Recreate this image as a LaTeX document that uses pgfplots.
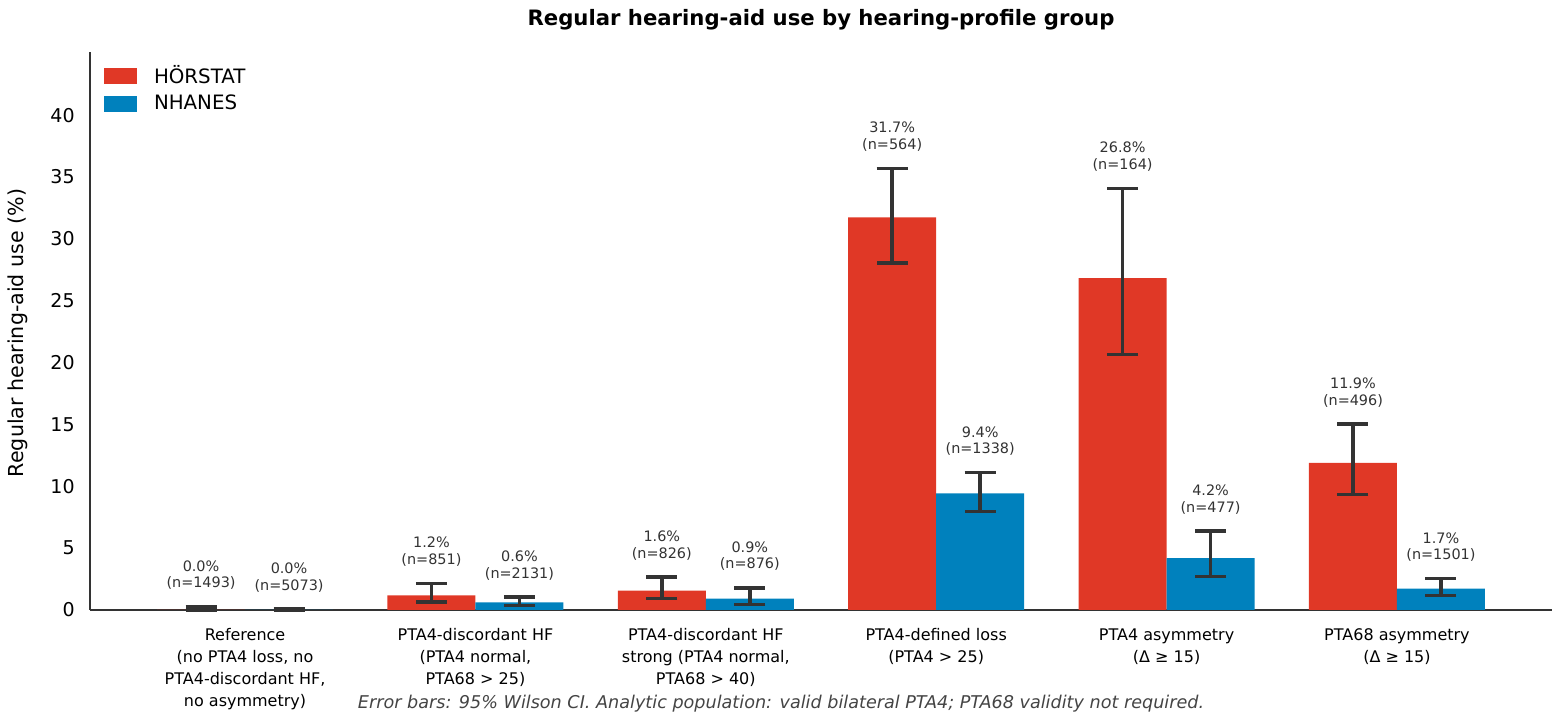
\documentclass[border=0pt]{standalone}
\usepackage{pgfplots}
\pgfplotsset{compat=1.18}
\usepackage{pgfplotstable}
\usepackage{fontspec}
\setmainfont{DejaVu Sans}
\definecolor{hred}{RGB}{224,56,38}
\definecolor{nblue}{RGB}{0,129,189}
\definecolor{ebar}{RGB}{51,51,51}
\definecolor{foot}{RGB}{68,68,68}

% x y err+ err-
\pgfplotstableread{
x      y      ep    em
-0.191 0.00   0.26  0.00
0.809  1.18   0.97  0.54
1.809  1.57   1.10  0.65
2.809  31.74  3.95  3.71
3.809  26.83  7.25  6.19
4.809  11.90  3.14  2.57
}\hor
\pgfplotstableread{
x      y      ep    em
0.191  0.00   0.076 0.00
1.191  0.61   0.43  0.25
2.191  0.91   0.88  0.45
3.191  9.42   1.68  1.45
4.191  4.19   2.20  1.46
5.191  1.73   0.80  0.55
}\nha

\begin{document}
\begin{tikzpicture}
\useasboundingbox (0,0) rectangle (781pt,360.5pt);
\begin{axis}[
  at={(45pt,55.5pt)}, anchor=south west,
  scale only axis, width=731pt, height=279pt,
  xmin=-0.673, xmax=5.673, ymin=0, ymax=45.1,
  axis x line*=bottom, axis y line*=left,
  axis line style={ebar, line width=1.35pt},
  major tick length=0pt,
  ytick={0,5,...,40},
  yticklabel style={font=\fontsize{9.5}{11}\selectfont, anchor=east, inner sep=0pt, xshift=-7.5pt},
  /pgf/number format/assume math mode=true,
  xtick={0,1,2,3,4,5},
  xticklabels={
    {Reference\\(no PTA4 loss, no\\PTA4-discordant HF,\\no asymmetry)},
    {PTA4-discordant HF\\(PTA4 normal,\\PTA68 > 25)},
    {PTA4-discordant HF\\strong (PTA4 normal,\\PTA68 > 40)},
    {PTA4-defined loss\\(PTA4 > 25)},
    {PTA4 asymmetry\\(Δ ≥ 15)},
    {PTA68 asymmetry\\(Δ ≥ 15)}},
  xticklabel style={font=\fontsize{8}{11}\selectfont, align=center, anchor=north, inner sep=0pt, yshift=-9pt},
  legend style={at={(axis description cs:0,1)}, anchor=north west, draw=none, fill=none,
    inner sep=0pt, outer sep=0pt, xshift=7pt, yshift=-6.75pt,
    font=\fontsize{9.9}{11}\selectfont, nodes={inner sep=0pt}, column sep=8.5pt, row sep=4.3pt},
  legend cell align=left,
  legend image code/.code={\fill[#1] (0pt,-4pt) rectangle (16.5pt,4pt);},
  clip=false,
]
\addplot[ybar, bar width=0.382, bar shift=0pt, fill=hred, draw=none,
  error bars/.cd, y dir=both, y explicit,
  error bar style={ebar, line width=1.8pt},
  error mark options={ebar, line width=1.7pt, mark size=7.75pt, rotate=90}]
  table[x=x, y=y, y error plus=ep, y error minus=em]{\hor};
\addlegendentry{HÖRSTAT}
\addplot[ybar, bar width=0.382, bar shift=0pt, fill=nblue, draw=none,
  error bars/.cd, y dir=both, y explicit,
  error bar style={ebar, line width=1.8pt},
  error mark options={ebar, line width=1.7pt, mark size=7.75pt, rotate=90}]
  table[x=x, y=y, y error plus=ep, y error minus=em]{\nha};
\addlegendentry{NHANES}

\begin{scope}[every node/.style={font=\fontsize{7.2}{8.3}\selectfont, text=ebar, align=center, anchor=south, inner sep=0pt}]
\node at (axis cs:-0.191,1.60) {0.0\%\\(n=1493)};
\node at (axis cs:0.191,1.42) {0.0\%\\(n=5073)};
\node at (axis cs:0.809,3.49) {1.2\%\\(n=851)};
\node at (axis cs:1.191,2.38) {0.6\%\\(n=2131)};
\node at (axis cs:1.809,4.01) {1.6\%\\(n=826)};
\node at (axis cs:2.191,3.13) {0.9\%\\(n=876)};
\node at (axis cs:2.809,37.03) {31.7\%\\(n=564)};
\node at (axis cs:3.191,12.44) {9.4\%\\(n=1338)};
\node at (axis cs:3.809,35.42) {26.8\%\\(n=164)};
\node at (axis cs:4.191,7.73) {4.2\%\\(n=477)};
\node at (axis cs:4.809,16.38) {11.9\%\\(n=496)};
\node at (axis cs:5.191,3.87) {1.7\%\\(n=1501)};
\end{scope}
\end{axis}
\node[font=\bfseries\fontsize{10.6}{13}\selectfont] at (410.5pt,350.5pt) {Regular hearing-aid use by hearing-profile group};
\node[rotate=90, font=\fontsize{10.3}{12}\selectfont] at (9pt,194pt) {Regular hearing-aid use (\%)};
\node[font=\itshape\fontsize{8.8}{10}\selectfont, text=foot] at (390.5pt,8.5pt) {Error bars: 95\% Wilson CI. Analytic population: valid bilateral PTA4; PTA68 validity not required.};
\end{tikzpicture}
\end{document}
